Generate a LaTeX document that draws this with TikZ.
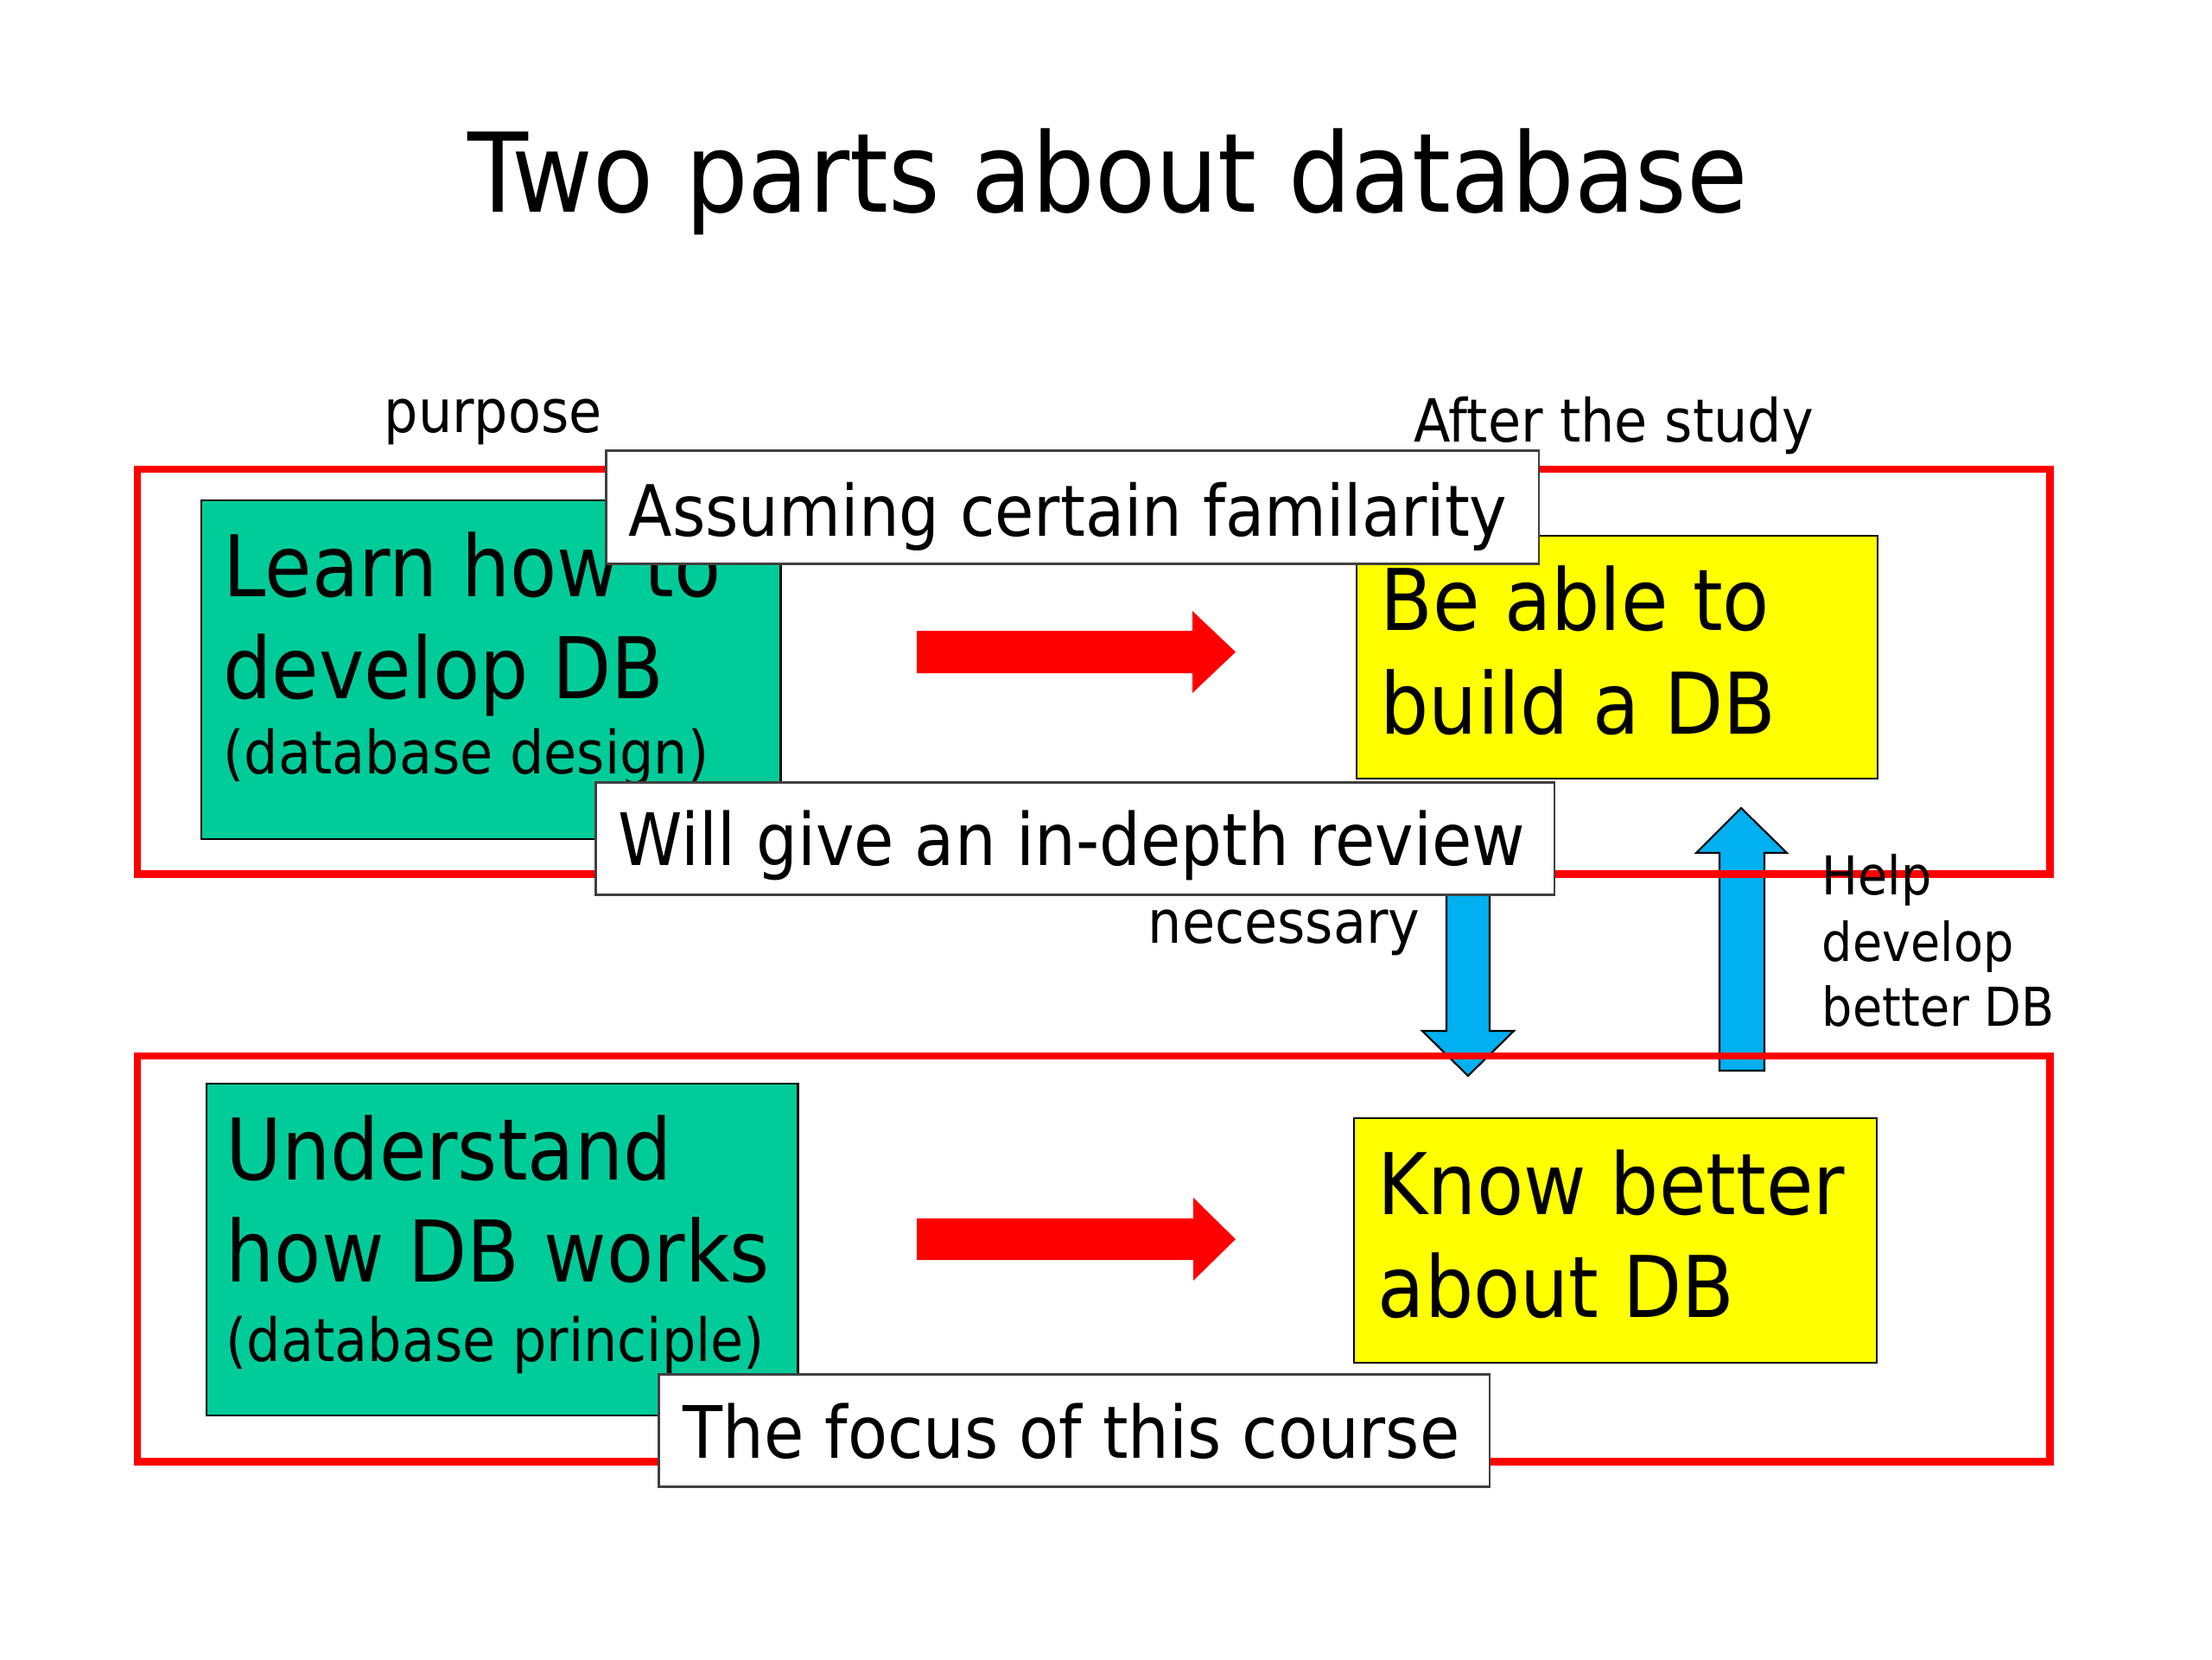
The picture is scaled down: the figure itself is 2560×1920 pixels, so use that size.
\documentclass[tikz,border=0pt]{standalone}
\usepackage{fontspec}
\setmainfont{DejaVu Sans}[FakeStretch=0.9]
\definecolor{dbgreen}{RGB}{0,204,153}
\definecolor{dbyellow}{RGB}{255,255,0}
\definecolor{dbred}{RGB}{255,0,0}
\definecolor{dbblue}{RGB}{0,176,240}
\newcommand\fTitle{\fontsize{36.2}{40}\selectfont}
\newcommand\fBig{\fontsize{28}{32}\selectfont}
\newcommand\fMid{\fontsize{23.3}{27}\selectfont}
\newcommand\fMidb{\fontsize{23.8}{27}\selectfont}
\newcommand\fSmall{\fontsize{19.6}{23}\selectfont}
\newcommand\fHelp{\fontsize{17.6}{21}\selectfont}
\begin{document}
\begin{tikzpicture}[x=0.01cm,y=-0.01cm,
  frame/.style={draw=dbred, line width=2.4pt, inner sep=0pt, anchor=north west},
  gbox/.style={draw=black, line width=0.6pt, fill=dbgreen, inner sep=0pt, anchor=north west},
  ybox/.style={draw=black, line width=0.6pt, fill=dbyellow, inner sep=0pt, anchor=north west},
  lbox/.style={draw=black!75, line width=0.8pt, fill=white, inner sep=0pt, anchor=north west},
  txt/.style={inner sep=0pt, anchor=base west},
  redarrow/.style={fill=dbred, draw=none},
  bluearrow/.style={fill=dbblue, draw=black, line width=0.6pt, line join=miter}]
\useasboundingbox (0,0) rectangle (2560,1920);
\fill[white] (0,0) rectangle (2560,1920);

% title
\node[inner sep=0pt, anchor=base] (title) at (1282,245) {\fTitle Two parts about database};

% blue arrows (under the frames)
\draw[bluearrow] (1674,1034) -- (1724,1034) -- (1724,1193) -- (1752,1193) -- (1699,1245) -- (1646,1193) -- (1674,1193) -- cycle;
\draw[bluearrow] (1990,1239) -- (2042,1239) -- (2042,987) -- (2068,987) -- (2015,935) -- (1963,987) -- (1990,987) -- cycle;

% red frames
\node[frame, minimum width=22.12cm, minimum height=4.68cm] (top) at (155,539) {};
\node[frame, minimum width=22.12cm, minimum height=4.69cm] (bottom) at (155,1218) {};

% top row
\node[gbox, minimum width=6.70cm, minimum height=3.92cm] (g1) at (232,578) {};
\node[txt] (g1a) at (258,690) {\fBig Learn how to};
\node[txt] (g1b) at (258,808) {\fBig develop DB};
\node[txt] (g1c) at (258,895) {\fSmall (database design)};

\node[ybox, minimum width=6.03cm, minimum height=2.81cm] (y1) at (1569,619) {};
\node[txt] (y1a) at (1597,729) {\fBig Be able to};
\node[txt] (y1b) at (1597,849) {\fBig build a DB};

% bottom row
\node[gbox, minimum width=6.84cm, minimum height=3.84cm] (g2) at (238,1253) {};
\node[txt] (g2a) at (261,1365) {\fBig Understand};
\node[txt] (g2b) at (261,1483) {\fBig how DB works};
\node[txt] (g2c) at (261,1575) {\fSmall (database principle)};

\node[ybox, minimum width=6.05cm, minimum height=2.83cm] (y2) at (1566,1293) {};
\node[txt] (y2a) at (1594,1405) {\fBig Know better};
\node[txt] (y2b) at (1594,1524) {\fBig about DB};

% red arrows
\draw[redarrow] (1061,730) -- (1380,730) -- (1380,707) -- (1430,754.5) -- (1380,802) -- (1380,779) -- (1061,779) -- cycle;
\draw[redarrow] (1061,1410) -- (1381,1410) -- (1381,1386) -- (1430,1434) -- (1381,1482) -- (1381,1458) -- (1061,1458) -- cycle;

% white label boxes
\node[lbox, minimum width=10.79cm, minimum height=1.31cm] (assume) at (700,520) {};
\node[txt] (assumet) at (727,620) {\fMid Assuming certain familarity};
\node[lbox, minimum width=11.09cm, minimum height=1.30cm] (review) at (688,904) {};
\node[txt] (reviewt) at (715,1001) {\fMidb Will give an in-depth review};
\node[lbox, minimum width=9.61cm, minimum height=1.30cm] (focus) at (761,1589) {};
\node[txt] (focust) at (790,1687) {\fMidb The focus of this course};

% free labels
\node[txt] (purpose) at (444,500) {\fSmall purpose};
\node[txt] (after) at (1636,511) {\fSmall After the study};
\node[inner sep=0pt, anchor=base east] (necessary) at (1644,1091) {\fSmall necessary};
\node[txt] (help1) at (2108,1035) {\fHelp Help};
\node[txt] (help2) at (2108,1112) {\fHelp develop};
\node[txt] (help3) at (2108,1187) {\fHelp better DB};
\end{tikzpicture}
\end{document}
